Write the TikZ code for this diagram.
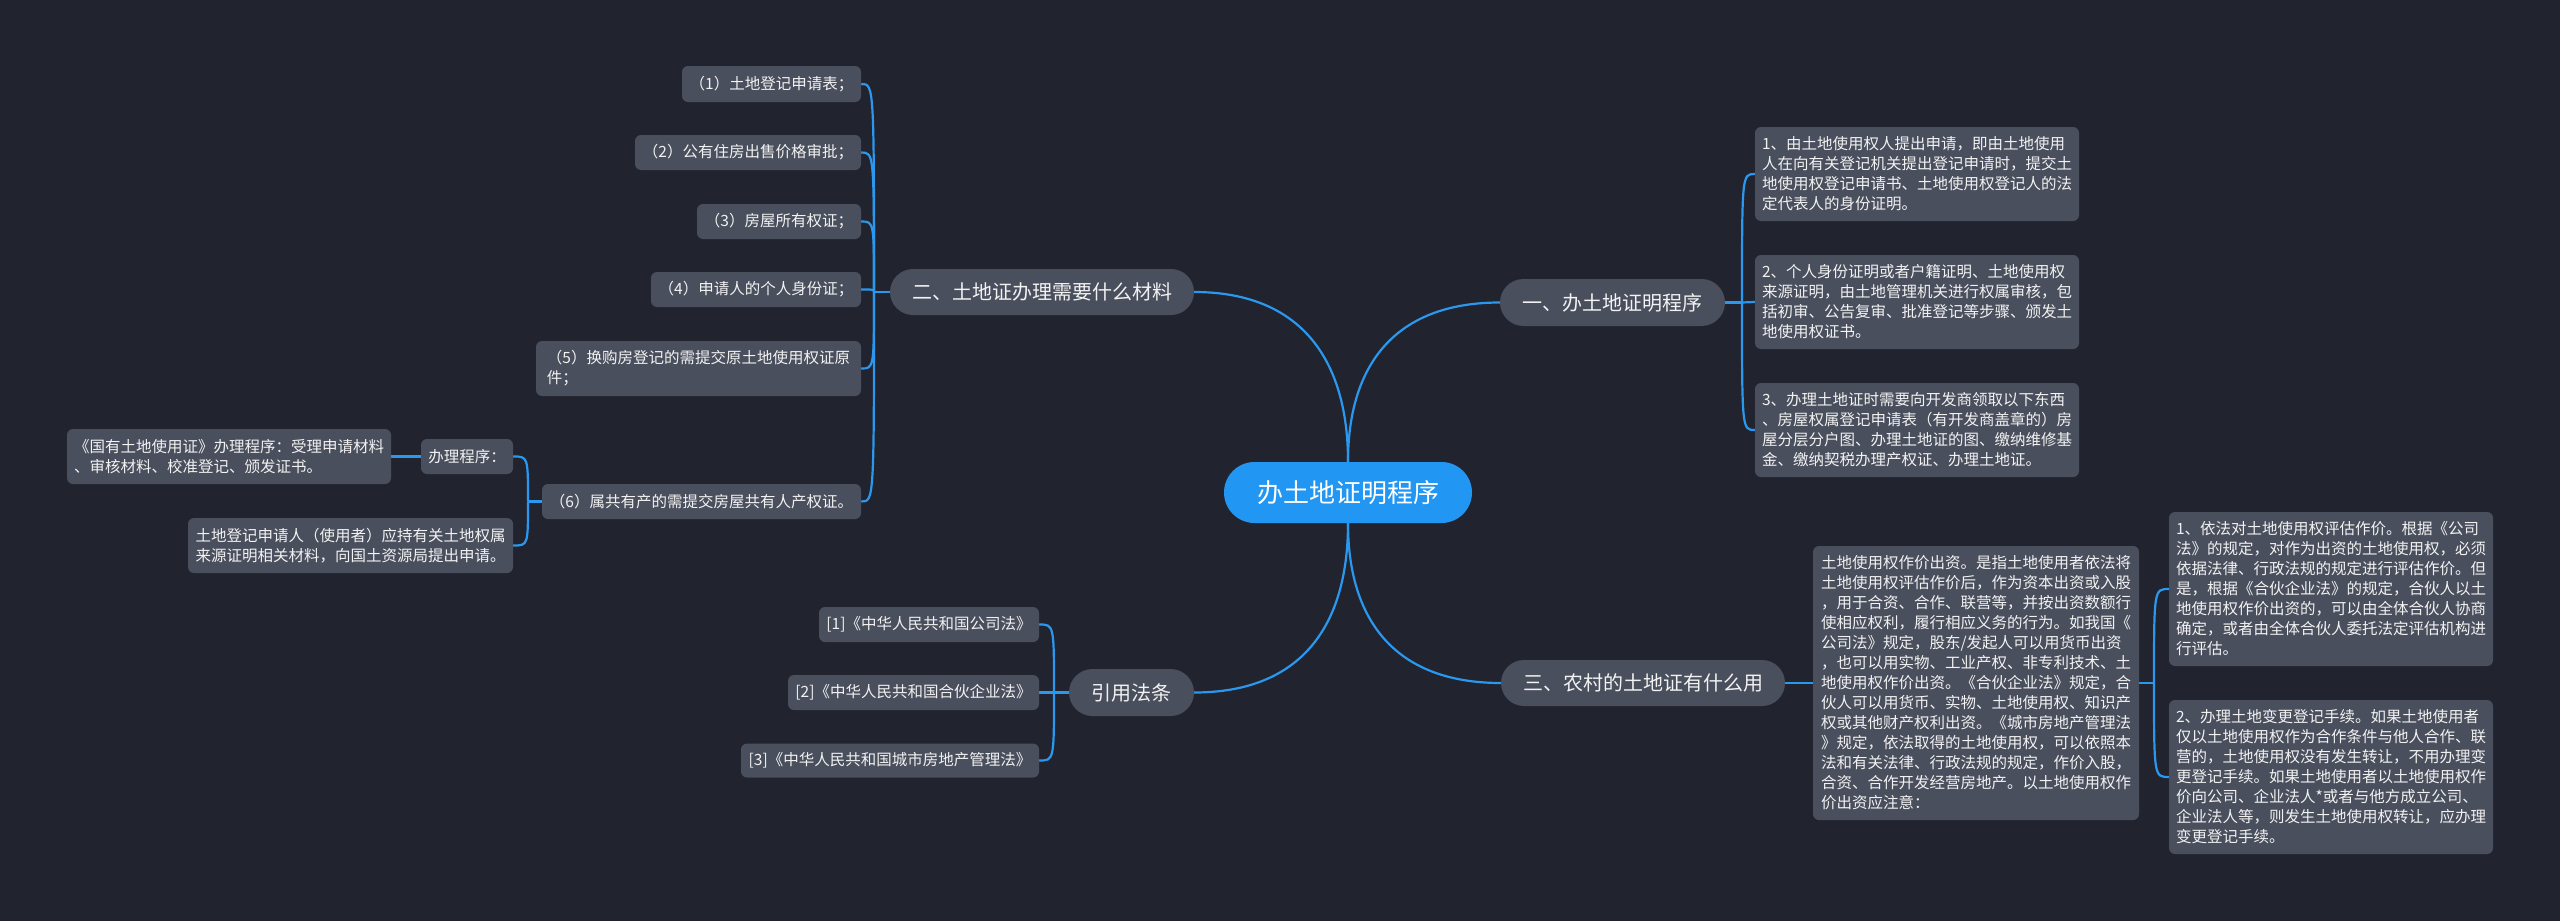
\documentclass[tikz,border=0pt]{standalone}
\usepackage{fontspec}
\setmainfont{Noto Sans CJK SC}
\usetikzlibrary{backgrounds,shapes.misc}
\definecolor{bgc}{HTML}{21242F}
\definecolor{nodec}{HTML}{4A4F5E}
\definecolor{linec}{HTML}{2A98EE}
\definecolor{rootc}{HTML}{2196F3}
\definecolor{txtc}{HTML}{F2F2F2}
\begin{document}
\begin{tikzpicture}[x=1pt,y=-1pt,
  box/.style={fill=nodec, rounded corners=6pt, text=txtc, inner sep=0pt, align=left, font=\fontsize{15.5pt}{20pt}\selectfont},
  topic/.style={fill=nodec, rounded rectangle, text=txtc, inner sep=0pt, font=\fontsize{20pt}{24pt}\selectfont},
  rootnode/.style={fill=rootc, rounded rectangle, text=white, inner sep=0pt, font=\fontsize{26pt}{30pt}\selectfont},
  conn/.style={draw=linec, line width=2.2pt}]
\begin{scope}[on background layer]
\fill[bgc] (0,0) rectangle (2560,921);
\end{scope}
\useasboundingbox (0,0) rectangle (2560,921);

% root and topics
\node[rootnode, minimum width=248pt, minimum height=61pt] (root) at (1348,492.5) {办土地证明程序};
\node[topic, minimum width=225pt, minimum height=47pt] (a) at (1612.5,302.5) {一、办土地证明程序};
\node[topic, minimum width=304pt, minimum height=46pt] (b) at (1042,292) {二、土地证办理需要什么材料};
\node[topic, minimum width=284pt, minimum height=46pt] (c) at (1643,683) {三、农村的土地证有什么用};
\node[topic, minimum width=125pt, minimum height=47pt] (d) at (1131.5,692.5) {引用法条};

% branch a
\node[box, minimum width=324pt, minimum height=94pt] (a1) at (1917,174) {1、由土地使用权人提出申请，即由土地使用\\人在向有关登记机关提出登记申请时，提交土\\地使用权登记申请书、土地使用权登记人的法\\定代表人的身份证明。};
\node[box, minimum width=324pt, minimum height=94pt] (a2) at (1917,302) {2、个人身份证明或者户籍证明、土地使用权\\来源证明，由土地管理机关进行权属审核，包\\括初审、公告复审、批准登记等步骤、颁发土\\地使用权证书。};
\node[box, minimum width=324pt, minimum height=94pt] (a3) at (1917,430) {3、办理土地证时需要向开发商领取以下东西\\、房屋权属登记申请表（有开发商盖章的）房\\屋分层分户图、办理土地证的图、缴纳维修基\\金、缴纳契税办理产权证、办理土地证。};

% branch c
\node[box, minimum width=326pt, minimum height=274pt] (c1) at (1976,683) {土地使用权作价出资。是指土地使用者依法将\\土地使用权评估作价后，作为资本出资或入股\\，用于合资、合作、联营等，并按出资数额行\\使相应权利，履行相应义务的行为。如我国《\\公司法》规定，股东/发起人可以用货币出资\\，也可以用实物、工业产权、非专利技术、土\\地使用权作价出资。《合伙企业法》规定，合\\伙人可以用货币、实物、土地使用权、知识产\\权或其他财产权利出资。《城市房地产管理法\\》规定，依法取得的土地使用权，可以依照本\\法和有关法律、行政法规的规定，作价入股，\\合资、合作开发经营房地产。以土地使用权作\\价出资应注意：};
\node[box, minimum width=324pt, minimum height=154pt] (c1a) at (2331,589) {1、依法对土地使用权评估作价。根据《公司\\法》的规定，对作为出资的土地使用权，必须\\依据法律、行政法规的规定进行评估作价。但\\是，根据《合伙企业法》的规定，合伙人以土\\地使用权作价出资的，可以由全体合伙人协商\\确定，或者由全体合伙人委托法定评估机构进\\行评估。};
\node[box, minimum width=324pt, minimum height=154pt] (c1b) at (2331,777) {2、办理土地变更登记手续。如果土地使用者\\仅以土地使用权作为合作条件与他人合作、联\\营的，土地使用权没有发生转让，不用办理变\\更登记手续。如果土地使用者以土地使用权作\\价向公司、企业法人*或者与他方成立公司、\\企业法人等，则发生土地使用权转让，应办理\\变更登记手续。};

% branch b
\node[box, minimum width=179pt, minimum height=36pt] (b1) at (771.5,84) {（1）土地登记申请表；};
\node[box, minimum width=226pt, minimum height=35pt] (b2) at (748,152.5) {（2）公有住房出售价格审批；};
\node[box, minimum width=164pt, minimum height=35pt] (b3) at (779,221.5) {（3）房屋所有权证；};
\node[box, minimum width=210pt, minimum height=35pt] (b4) at (756,289.5) {（4）申请人的个人身份证；};
\node[box, minimum width=325pt, minimum height=55pt] (b5) at (698.5,368.5) {（5）换购房登记的需提交原土地使用权证原\\件；};
\node[box, minimum width=319pt, minimum height=35pt] (b6) at (701.5,501.5) {（6）属共有产的需提交房屋共有人产权证。};
\node[box, minimum width=92pt, minimum height=35pt] (b6a) at (467,456.5) {办理程序：};
\node[box, minimum width=324pt, minimum height=55pt] (b6a1) at (229,456.5) {《国有土地使用证》办理程序：受理申请材料\\、审核材料、校准登记、颁发证书。};
\node[box, minimum width=325pt, minimum height=55pt] (b6b) at (350.5,545.5) {土地登记申请人（使用者）应持有关土地权属\\来源证明相关材料，向国土资源局提出申请。};

% branch d
\node[box, minimum width=220pt, minimum height=35pt] (d1) at (929,624.5) {[1]《中华人民共和国公司法》};
\node[box, minimum width=251pt, minimum height=35pt] (d2) at (913.5,692.5) {[2]《中华人民共和国合伙企业法》};
\node[box, minimum width=298pt, minimum height=34pt] (d3) at (890,760.5) {[3]《中华人民共和国城市房地产管理法》};

% junctions
\coordinate (ja) at (1742,302.5);
\coordinate (jb) at (874,292);
\coordinate (j6) at (528,501.5);
\coordinate (jc) at (2154,683);
\coordinate (jd) at (1054,692.5);

\begin{scope}[on background layer]
\draw[conn] (root.north) .. controls (1348,366) and (1394,302.5) .. (a.west);
\draw[conn] (root.north) .. controls (1348,361) and (1302,292) .. (b.east);
\draw[conn] (root.south) .. controls (1348,619) and (1394,683) .. (c.west);
\draw[conn] (root.south) .. controls (1348,625) and (1302,692.5) .. (d.east);

\draw[conn] (a.east) -- (ja);
\draw[conn] (ja) .. controls (ja |- a1.west) .. (a1.west);
\draw[conn] (ja) -- (a2.west);
\draw[conn] (ja) .. controls (ja |- a3.west) .. (a3.west);

\draw[conn] (b.west) -- (jb);
\foreach \n in {b1,b2,b3,b4,b5,b6}
  \draw[conn] (jb) .. controls (jb |- \n.east) .. (\n.east);

\draw[conn] (b6.west) -- (j6);
\draw[conn] (j6) .. controls (j6 |- b6a.east) .. (b6a.east);
\draw[conn] (j6) .. controls (j6 |- b6b.east) .. (b6b.east);
\draw[conn] (b6a.west) -- (b6a1.east);

\draw[conn] (c.east) -- (c1.west);
\draw[conn] (c1.east) -- (jc);
\draw[conn] (jc) .. controls (jc |- c1a.west) .. (c1a.west);
\draw[conn] (jc) .. controls (jc |- c1b.west) .. (c1b.west);

\draw[conn] (d.west) -- (jd);
\foreach \n in {d1,d2,d3}
  \draw[conn] (jd) .. controls (jd |- \n.east) .. (\n.east);
\end{scope}
\end{tikzpicture}
\end{document}
